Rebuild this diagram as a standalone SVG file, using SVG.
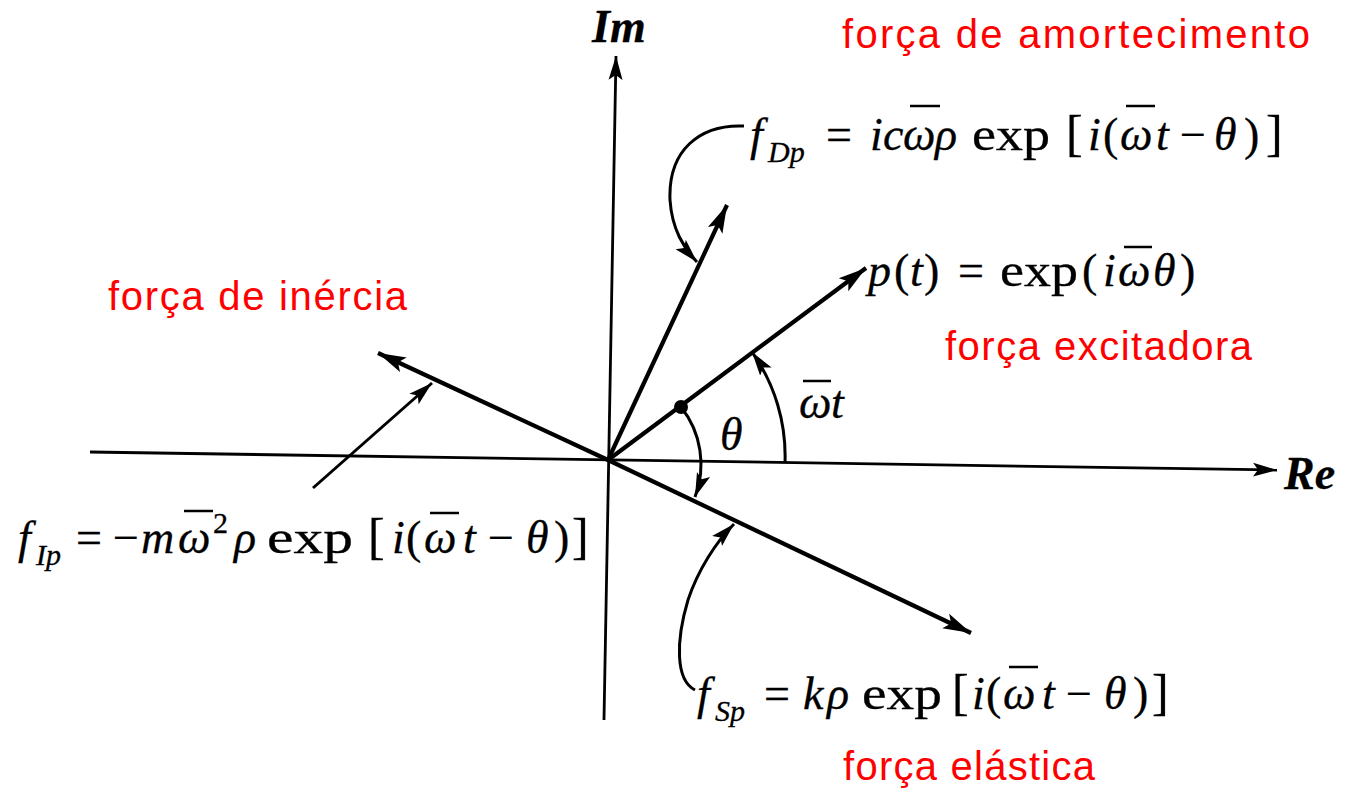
<svg xmlns="http://www.w3.org/2000/svg" width="1355" height="791" viewBox="0 0 1355 791">
<style>
.m{font-family:"Liberation Serif","DejaVu Serif",serif;font-style:italic;font-size:46px;fill:#000;stroke:#000;stroke-width:0.3}
.u{font-style:normal}
.s{font-size:30px}
.b{font-size:50px;font-style:normal}
.lab{font-family:"Liberation Sans","Open Sans",sans-serif;font-size:40px;fill:#f00}
.ax{stroke:#000;stroke-width:2.8;fill:none}
.vec{stroke:#000;stroke-width:4.2;fill:none}
.ptr{stroke:#000;stroke-width:3;fill:none}
.bar{stroke:#000;stroke-width:2.5}
</style>
<defs>
<marker id="ah" markerUnits="userSpaceOnUse" markerWidth="30" markerHeight="20" refX="28" refY="10" orient="auto">
<path d="M0,2 L28,10 L0,18 L6,10 Z" fill="#000"/>
</marker>
<marker id="ahs" markerUnits="userSpaceOnUse" markerWidth="26" markerHeight="18" refX="24" refY="9" orient="auto">
<path d="M0,2 L24,9 L0,16 L5,9 Z" fill="#000"/>
</marker>
</defs>
<rect width="1355" height="791" fill="#fff"/>

<g id="connectors">
<line id="re-axis" class="ax" x1="90" y1="452" x2="1277" y2="470" marker-end="url(#ahs)"/>
<line id="im-axis" class="ax" x1="604" y1="720" x2="616" y2="56" marker-end="url(#ahs)"/>
<line id="v-damping" class="vec" x1="608" y1="460" x2="727" y2="205" marker-end="url(#ah)"/>
<line id="v-excit" class="vec" x1="608" y1="460" x2="866" y2="268" marker-end="url(#ah)"/>
<line id="v-inertia" class="vec" x1="608" y1="460" x2="378" y2="353" marker-end="url(#ah)"/>
<line id="v-elastic" class="vec" x1="608" y1="460" x2="971" y2="633" marker-end="url(#ah)"/>
<path id="arc-theta" class="ptr" d="M681,407 A92,92 0 0 1 695,497" marker-end="url(#ahs)"/>
<path id="arc-wt" class="ptr" d="M785,463 A180,180 0 0 0 752,352" marker-end="url(#ahs)"/>
<path id="p-damping" class="ptr" d="M744,126 C700,124 668,150 670,200 C672,230 684,248 697,262" marker-end="url(#ahs)"/>
<path id="p-inertia" class="ptr" d="M313,488 L432,383" marker-end="url(#ahs)"/>
<path id="p-elastic" class="ptr" d="M695,690 C675,680 676,640 688,600 C698,570 716,542 734,524" marker-end="url(#ahs)"/>
</g>

<g id="point"><circle cx="681" cy="407" r="7" fill="#000"/></g>

<g id="axis-labels">
<text class="m" x="592" y="42" font-weight="bold" font-size="40">Im</text>
<text class="m" x="1284" y="489" font-weight="bold" font-size="42">Re</text>
</g>

<g id="angle-labels">
<text class="m" x="720" y="450" font-size="42">θ</text>
<text class="m" y="418"><tspan x="799">ω</tspan><tspan x="831">t</tspan></text>
<line class="bar" x1="803" y1="381" x2="831" y2="381"/>
</g>

<g id="f-damping">
<text class="m" y="150"><tspan x="750">f</tspan><tspan x="768" dy="12" class="s">Dp</tspan><tspan x="826" dy="-12" class="u">=</tspan><tspan x="870">i</tspan><tspan x="883">c</tspan><tspan x="903">ω</tspan><tspan x="935">ρ</tspan><tspan x="972" class="u" textLength="78" lengthAdjust="spacingAndGlyphs">exp</tspan><tspan x="1066" class="b">[</tspan><tspan x="1088">i</tspan><tspan x="1103" class="u">(</tspan><tspan x="1120">ω</tspan><tspan x="1156">t</tspan><tspan x="1180" class="u">−</tspan><tspan x="1214">θ</tspan><tspan x="1244" class="u">)</tspan><tspan x="1266" class="b">]</tspan></text>
<line class="bar" x1="910" y1="106" x2="940" y2="106"/>
<line class="bar" x1="1126" y1="106" x2="1155" y2="106"/>
<text class="lab" x="842" y="48" textLength="468">força de amortecimento</text>
</g>

<g id="f-excitation">
<text class="m" y="286"><tspan x="868">p</tspan><tspan x="894" class="u">(</tspan><tspan x="910">t</tspan><tspan x="924" class="u">)</tspan><tspan x="958" class="u">=</tspan><tspan x="1000" class="u" textLength="78" lengthAdjust="spacingAndGlyphs">exp</tspan><tspan x="1082" class="u">(</tspan><tspan x="1103">i</tspan><tspan x="1118">ω</tspan><tspan x="1153">θ</tspan><tspan x="1180" class="u">)</tspan></text>
<line class="bar" x1="1124" y1="247" x2="1152" y2="247"/>
<text class="lab" x="945" y="360" textLength="307">força excitadora</text>
</g>

<g id="f-inertia">
<text class="m" y="553"><tspan x="18">f</tspan><tspan x="36" dy="12" class="s">Ip</tspan><tspan x="76" dy="-12" class="u">=</tspan><tspan x="113" class="u">−</tspan><tspan x="141">m</tspan><tspan x="178">ω</tspan><tspan x="213" dy="-20" class="s u">2</tspan><tspan x="234" dy="20">ρ</tspan><tspan x="267" class="u" textLength="86" lengthAdjust="spacingAndGlyphs">exp</tspan><tspan x="368" class="b">[</tspan><tspan x="392">i</tspan><tspan x="406" class="u">(</tspan><tspan x="424">ω</tspan><tspan x="463">t</tspan><tspan x="488" class="u">−</tspan><tspan x="526">θ</tspan><tspan x="554" class="u">)</tspan><tspan x="572" class="b">]</tspan></text>
<line class="bar" x1="184" y1="511" x2="213" y2="511"/>
<line class="bar" x1="430" y1="513" x2="459" y2="513"/>
<text class="lab" x="108" y="310" textLength="299">força de inércia</text>
</g>

<g id="f-elastic">
<text class="m" y="709"><tspan x="697">f</tspan><tspan x="715" dy="12" class="s">Sp</tspan><tspan x="764" dy="-12" class="u">=</tspan><tspan x="803">k</tspan><tspan x="827">ρ</tspan><tspan x="862" class="u" textLength="80" lengthAdjust="spacingAndGlyphs">exp</tspan><tspan x="952" class="b">[</tspan><tspan x="972">i</tspan><tspan x="986" class="u">(</tspan><tspan x="1003">ω</tspan><tspan x="1042">t</tspan><tspan x="1066" class="u">−</tspan><tspan x="1104">θ</tspan><tspan x="1133" class="u">)</tspan><tspan x="1152" class="b">]</tspan></text>
<line class="bar" x1="1009" y1="667" x2="1038" y2="667"/>
<text class="lab" x="843" y="780" textLength="252">força elástica</text>
</g>
</svg>
